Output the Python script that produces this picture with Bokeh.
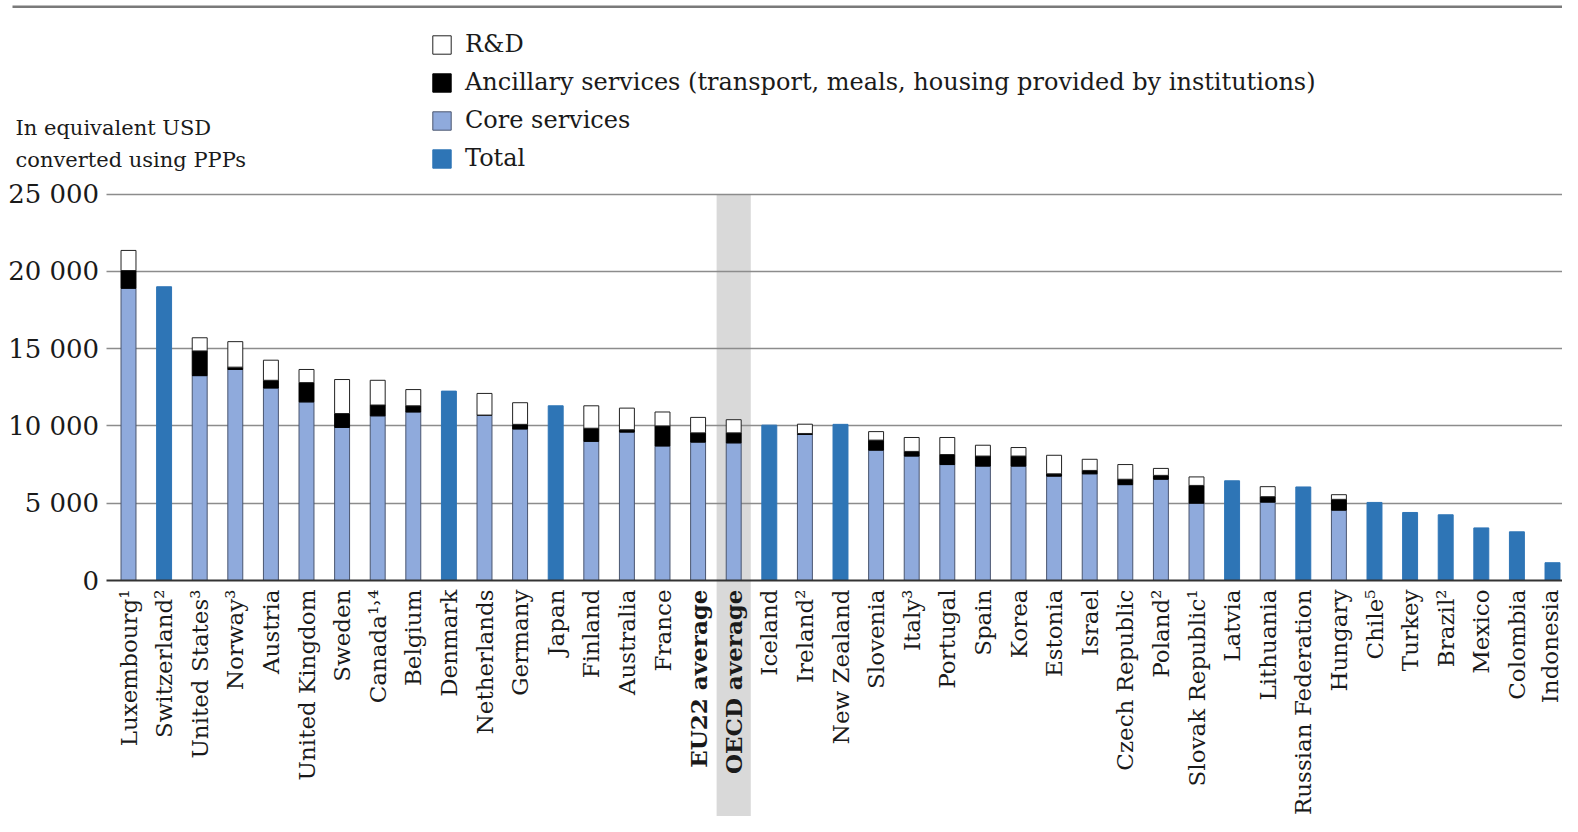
import math
from bokeh.plotting import figure
from bokeh.models import (Range1d, FixedTicker, BoxAnnotation, Label, Legend,
                          LegendItem, ColumnDataSource)
from bokeh.embed import file_html
from bokeh.resources import INLINE

countries = ["Luxembourg¹", "Switzerland²", "United States³", "Norway³", "Austria",
             "United Kingdom", "Sweden", "Canada¹˒⁴", "Belgium", "Denmark",
             "Netherlands", "Germany", "Japan", "Finland", "Australia", "France",
             "EU22 average", "OECD average", "Iceland", "Ireland²", "New Zealand",
             "Slovenia", "Italy³", "Portugal", "Spain", "Korea", "Estonia", "Israel",
             "Czech Republic", "Poland²", "Slovak Republic¹", "Latvia", "Lithuania",
             "Russian Federation", "Hungary", "Chile⁵", "Turkey", "Brazil²", "Mexico",
             "Colombia", "Indonesia"]
N = None
core = [18900, N, 13250, 13650, 12450, 11550, 9900, 10650, 10900, N,
        10700, 9800, N, 9000, 9600, 8700, 8950, 8900, N, 9450, N,
        8430, 8050, 7500, 7400, 7400, 6750, 6900, 6200, 6550, 5000, N, 5070,
        N, 4550, N, N, N, N, N, N]
ancillary = [1150, N, 1600, 150, 500, 1250, 900, 700, 400, N,
             0, 300, N, 850, 150, 1300, 600, 650, N, 60, N,
             650, 300, 650, 650, 650, 150, 220, 350, 250, 1150, N, 350,
             N, 700, N, N, N, N, N, N]
rnd = [1300, N, 850, 1650, 1300, 850, 2200, 1600, 1050, N,
       1400, 1400, N, 1450, 1400, 900, 1000, 850, N, 600, N,
       550, 900, 1100, 700, 550, 1200, 720, 950, 450, 550, N, 650,
       N, 300, N, N, N, N, N, N]
total = [N, 19000, N, N, N, N, N, N, N, 12250,
         N, N, 11300, N, N, N, N, N, 10050, N, 10100,
         N, N, N, N, N, N, N, N, N, N, 6450, N,
         6050, N, 5050, 4400, 4250, 3400, 3150, 1150]
bold_labels = ["EU22 average", "OECD average"]
highlight = "OECD average"
y_ticks = [0, 5000, 10000, 15000, 20000, 25000]
y_tick_labels = ["0", "5 000", "10 000", "15 000", "20 000", "25 000"]
y_title = ["In equivalent USD", "converted using PPPs"]

FONT = "DejaVu Serif"
CORE_C = "#8faadc"
TOTAL_C = "#2e75b6"
TXT = "#1a1a1a"

# layout in canvas pixels
W, H = 1562, 816
Y0_PX = 580.0                   # canvas y of value 0
Y25_PX = 193.5                  # canvas y of value 25 000
PX_PER_UNIT = (Y0_PX - Y25_PX) / 25000.0
X0_PX = 128.0                   # canvas x of first bar centre
STEP_PX = 35.6                  # bar spacing
y_lo = -(H - Y0_PX) / PX_PER_UNIT
y_hi = Y0_PX / PX_PER_UNIT
x_lo = -X0_PX / STEP_PX
x_hi = (W - X0_PX) / STEP_PX


def ydata(canvas_y):
    return (Y0_PX - canvas_y) / PX_PER_UNIT


def xdata(canvas_x):
    return (canvas_x - X0_PX) / STEP_PX


axis_left = xdata(105.6)
axis_right = xdata(W)

idx_stack = [i for i, v in enumerate(core) if v is not None]
idx_total = [i for i, v in enumerate(total) if v is not None]
src_stack = ColumnDataSource(dict(
    x=idx_stack,
    core=[core[i] for i in idx_stack],
    ancillary=[ancillary[i] for i in idx_stack],
    rnd=[rnd[i] for i in idx_stack]))
src_total = ColumnDataSource(dict(
    x=idx_total, total=[total[i] for i in idx_total]))

p = figure(width=W, height=H, x_range=Range1d(x_lo, x_hi),
           y_range=Range1d(y_lo, y_hi), output_backend="svg", toolbar_location=None,
           min_border_left=0, min_border_right=0, min_border_top=0,
           min_border_bottom=0)
p.outline_line_color = None
p.background_fill_color = "white"
p.border_fill_color = "white"
p.xgrid.visible = False
p.ygrid.ticker = FixedTicker(ticks=y_ticks[1:])
p.ygrid.grid_line_color = "#8c8c8c"
p.ygrid.grid_line_width = 1.5
p.ygrid.cross_bounds = (axis_left, axis_right)

# grey band behind OECD average
hi = countries.index(highlight)
band = BoxAnnotation(left=hi - 0.48, right=hi + 0.48, top=y_ticks[-1],
                     fill_color="#d9d9d9", fill_alpha=1.0, line_color=None, level="image")
p.add_layout(band)

# top rule
rule = BoxAnnotation(left=xdata(12), top=ydata(5), bottom=ydata(7.5),
                     fill_color="#7a7a7a", fill_alpha=1.0, line_color=None)
p.add_layout(rule)

stack_r = p.vbar_stack(["core", "ancillary", "rnd"], x="x", width=0.42, source=src_stack,
                       fill_color=[CORE_C, "black", "white"],
                       line_color=["#4a5670", "black", "#222222"], line_width=1)
total_r = p.vbar(x="x", top="total", width=0.42, source=src_total,
                 fill_color=TOTAL_C, line_color=TOTAL_C, line_width=1)

# axes (drawn at fixed positions inside the frame)
p.xaxis.fixed_location = 0
p.xaxis.bounds = (axis_left, axis_right)
p.xaxis.ticker = FixedTicker(ticks=list(range(len(countries))))
p.xaxis.major_label_overrides = {i: ("" if c in bold_labels else c)
                                 for i, c in enumerate(countries)}
p.xaxis.major_label_orientation = math.pi / 2
p.xaxis.major_label_text_font = FONT
p.xaxis.major_label_text_font_size = "23px"
p.xaxis.major_label_text_color = TXT
p.xaxis.major_tick_out = 0
p.xaxis.major_tick_in = 0
p.xaxis.major_label_standoff = 9
p.xaxis.major_tick_line_color = None
p.xaxis.minor_tick_line_color = None
p.xaxis.axis_line_color = "#333333"
p.xaxis.axis_line_width = 2

p.yaxis.fixed_location = axis_left
p.yaxis.bounds = (0, 25000)
p.yaxis.ticker = FixedTicker(ticks=y_ticks)
p.yaxis.major_label_overrides = {t: l for t, l in zip(y_ticks, y_tick_labels)}
p.yaxis.major_label_text_font = FONT
p.yaxis.major_label_text_font_size = "26px"
p.yaxis.major_label_text_color = TXT
p.yaxis.major_tick_out = 0
p.yaxis.major_tick_in = 0
p.yaxis.major_label_standoff = 7
p.yaxis.axis_line_color = None
p.yaxis.major_tick_line_color = None
p.yaxis.minor_tick_line_color = None

for name in bold_labels:
    i = countries.index(name)
    p.add_layout(Label(x=i, y=ydata(Y0_PX + 9), text=name, angle=math.pi / 2,
                       text_align="right", text_baseline="middle",
                       text_font=FONT, text_font_size="23px",
                       text_font_style="bold", text_color=TXT))

for line, cy in zip(y_title, [127, 159]):
    p.add_layout(Label(x=xdata(15), y=ydata(cy), text=line, text_font=FONT,
                       text_font_size="21px", text_color=TXT,
                       text_baseline="alphabetic"))

legend = Legend(items=[
    LegendItem(label="R&D", renderers=[stack_r[2]]),
    LegendItem(label="Ancillary services (transport, meals, housing provided by institutions)",
               renderers=[stack_r[1]]),
    LegendItem(label="Core services", renderers=[stack_r[0]]),
    LegendItem(label="Total", renderers=[total_r]),
], location=(430, 644))
legend.border_line_color = None
legend.background_fill_alpha = 0
legend.padding = 0
legend.margin = 0
legend.spacing = 10
legend.glyph_width = 23
legend.glyph_height = 23
legend.label_height = 20
legend.label_standoff = 12
legend.label_text_font = FONT
legend.label_text_font_size = "24px"
legend.label_text_color = TXT
p.add_layout(legend, "center")

open("out.html", "w").write(file_html(p, INLINE))
